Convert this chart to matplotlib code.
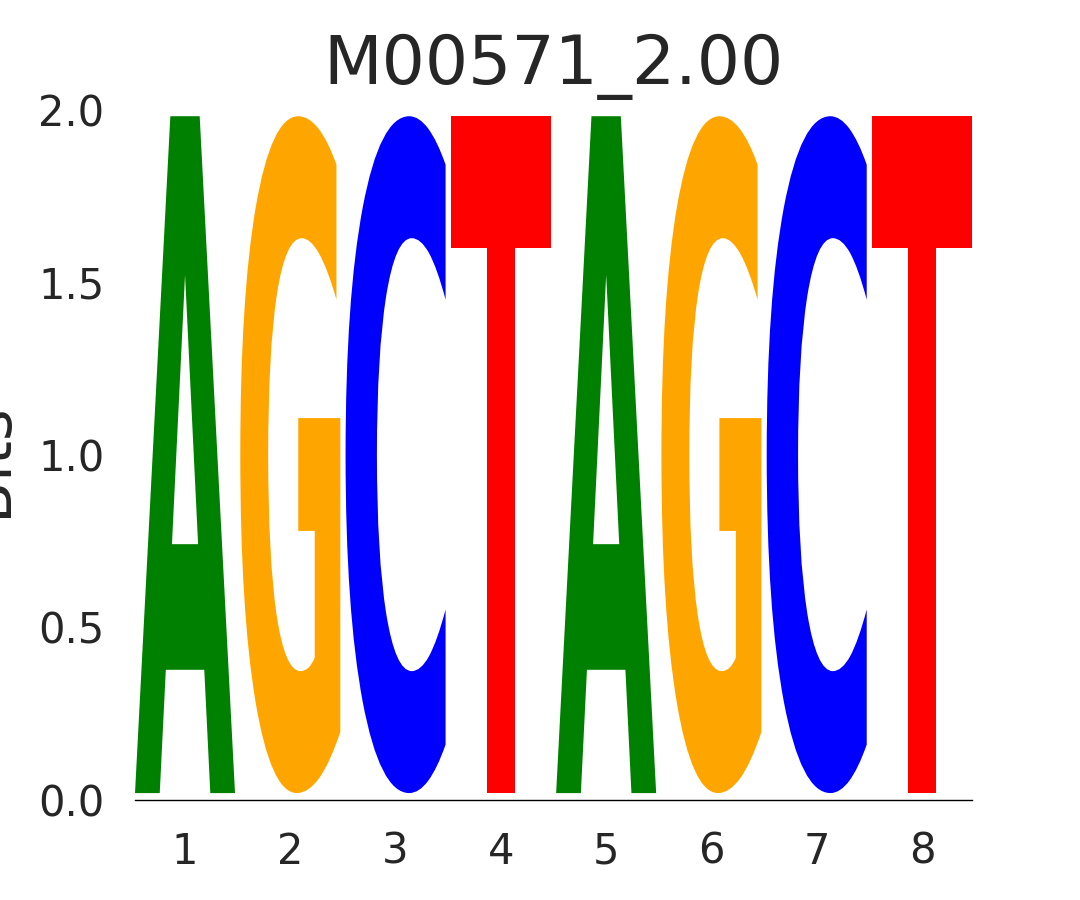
import matplotlib
matplotlib.use("Agg")
import matplotlib.pyplot as plt
import seaborn as sns
from matplotlib.textpath import TextPath
from matplotlib.patches import PathPatch
from matplotlib.font_manager import FontProperties
from matplotlib.transforms import Affine2D

# motif M00571, one base per position, information content in bits
positions = [1, 2, 3, 4, 5, 6, 7, 8]
bases = ["A", "G", "C", "T", "A", "G", "C", "T"]
bits = [1.97, 1.97, 1.97, 1.97, 1.97, 1.97, 1.97, 1.97]
title = "M00571_2.00"

colors = {"A": "#008000", "C": "#0000ff", "G": "#ffa500", "T": "#ff0000"}

sns.set_theme(style="white")
plt.rcParams["font.family"] = ["DejaVu Sans"]
text_color = "#262626"

fig = plt.figure(figsize=(10.8, 9), dpi=100)
ax = fig.add_axes([135 / 1080, 1 - 800 / 900, 837 / 1080, 690 / 900])

font = FontProperties(family="DejaVu Sans", weight="bold")
width = 0.95
floor = 0.02


def draw_glyph(ax, char, x, bottom, height, color):
    path = TextPath((0, 0), char, size=1, prop=font)
    ext = path.get_extents()
    t = (Affine2D()
         .translate(-ext.x0, -ext.y0)
         .scale(width / ext.width, height / ext.height)
         .translate(x - width / 2, bottom))
    patch = PathPatch(t.transform_path(path), facecolor=color,
                      edgecolor="none", transform=ax.transData)
    ax.add_patch(patch)


for p, b, h in zip(positions, bases, bits):
    draw_glyph(ax, b, p, floor, h - floor + 0.012, colors[b])

ax.set_xlim(0.525, 8.475)
ax.set_ylim(0, 2.0)
ax.set_xticks(positions)
ax.set_xticklabels([str(p) for p in positions])
ax.set_yticks([0.0, 0.5, 1.0, 1.5, 2.0])
ax.set_yticklabels(["0.0", "0.5", "1.0", "1.5", "2.0"])
ax.tick_params(axis="both", length=0, labelsize=30, colors=text_color)
ax.tick_params(axis="y", pad=22)
ax.tick_params(axis="x", pad=22)

for side in ["top", "right", "left"]:
    ax.spines[side].set_visible(False)
ax.spines["bottom"].set_color("black")
ax.spines["bottom"].set_linewidth(1.0)

ax.set_title(title, fontsize=49, color=text_color, pad=19)
fig.text(19.5 / 1080, 1 - 460 / 900, "Bits", rotation=90, fontsize=44,
         color=text_color, ha="center", va="bottom", rotation_mode="anchor")

fig.savefig("out.png", dpi=100)
